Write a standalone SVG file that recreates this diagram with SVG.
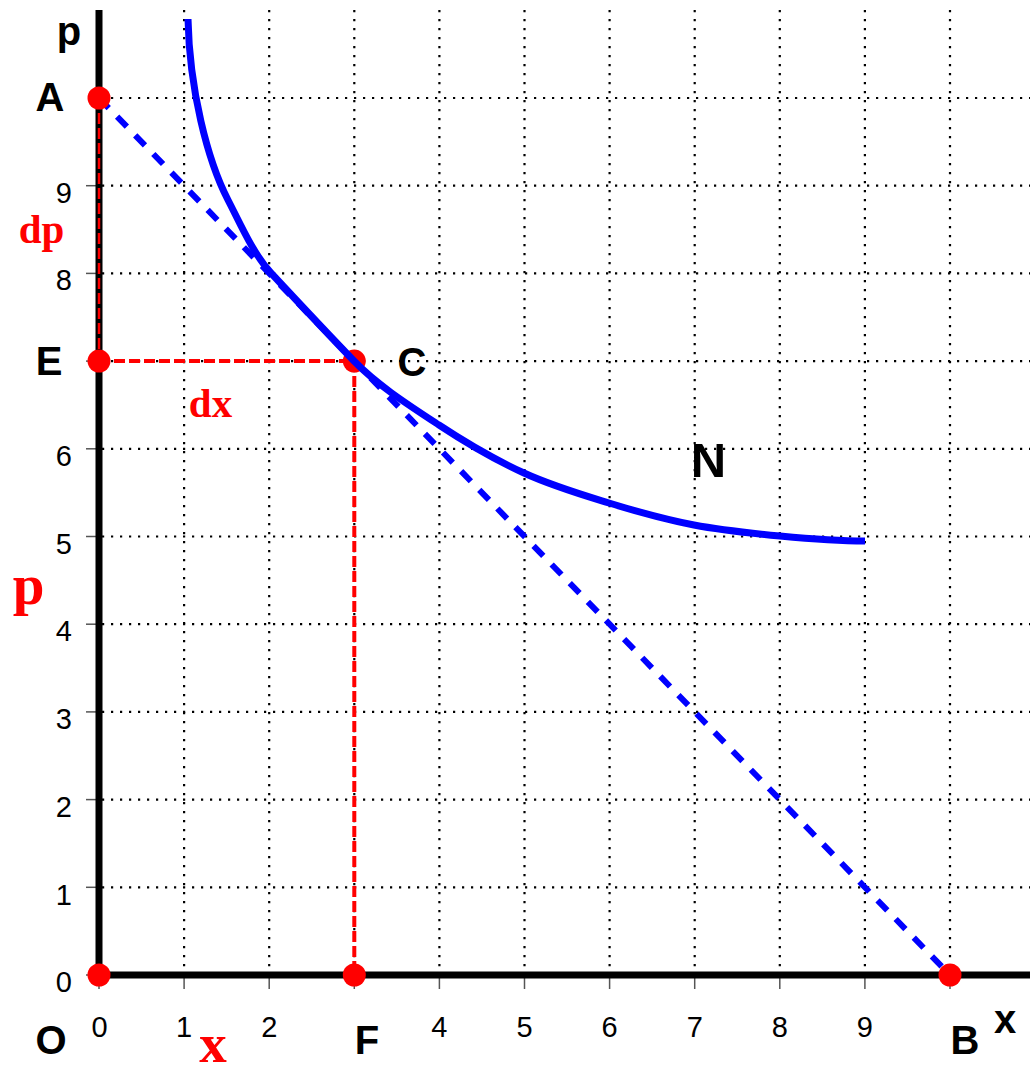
<svg xmlns="http://www.w3.org/2000/svg" width="1030" height="1068" viewBox="0 0 1030 1068">
<style>
.grid line{stroke:#000;stroke-width:2.2;stroke-dasharray:2.2 6.8;fill:none}
.tick line{stroke:#555;stroke-width:1.5}
.axis{stroke:#000;stroke-width:7;fill:none}
.num{font-family:"Liberation Sans",Arial,sans-serif;font-size:29px;fill:#000}
.numy{text-anchor:end}
.numx{text-anchor:middle}
.lbl{font-family:"Liberation Sans",Arial,sans-serif;font-weight:bold;font-size:40px;fill:#000;text-anchor:middle}
.rlbl{font-family:"Liberation Serif","Times New Roman",serif;font-weight:bold;fill:#ff0000;text-anchor:middle}
.dot{fill:#ff0000}
.rdash{stroke:#ff0000;stroke-width:4;stroke-dasharray:11 4;fill:none}
.bdash{stroke:#0000ff;stroke-width:6;stroke-dasharray:14 12;fill:none}
.curve{stroke:#0000ff;stroke-width:7;fill:none}
</style>
<rect x="0" y="0" width="1030" height="1068" fill="#fff"/>
<g id="grid" class="grid">
<line x1="184.1" y1="10" x2="184.1" y2="975"/>
<line x1="269.2" y1="10" x2="269.2" y2="975"/>
<line x1="354.3" y1="10" x2="354.3" y2="975"/>
<line x1="439.4" y1="10" x2="439.4" y2="975"/>
<line x1="524.5" y1="10" x2="524.5" y2="975"/>
<line x1="609.6" y1="10" x2="609.6" y2="975"/>
<line x1="694.7" y1="10" x2="694.7" y2="975"/>
<line x1="779.8" y1="10" x2="779.8" y2="975"/>
<line x1="864.9" y1="10" x2="864.9" y2="975"/>
<line x1="950" y1="10" x2="950" y2="975"/>
<line x1="102" y1="887.3" x2="1030" y2="887.3"/>
<line x1="102" y1="799.6" x2="1030" y2="799.6"/>
<line x1="102" y1="711.9" x2="1030" y2="711.9"/>
<line x1="102" y1="624.2" x2="1030" y2="624.2"/>
<line x1="102" y1="536.5" x2="1030" y2="536.5"/>
<line x1="102" y1="448.8" x2="1030" y2="448.8"/>
<line x1="102" y1="361.1" x2="1030" y2="361.1"/>
<line x1="102" y1="273.4" x2="1030" y2="273.4"/>
<line x1="102" y1="185.7" x2="1030" y2="185.7"/>
<line x1="102" y1="98" x2="1030" y2="98"/>
</g>
<g id="ticks" class="tick">
<line x1="86" y1="975" x2="99" y2="975"/>
<line x1="86" y1="887.3" x2="99" y2="887.3"/>
<line x1="86" y1="799.6" x2="99" y2="799.6"/>
<line x1="86" y1="711.9" x2="99" y2="711.9"/>
<line x1="86" y1="624.2" x2="99" y2="624.2"/>
<line x1="86" y1="536.5" x2="99" y2="536.5"/>
<line x1="86" y1="448.8" x2="99" y2="448.8"/>
<line x1="86" y1="361.1" x2="99" y2="361.1"/>
<line x1="86" y1="273.4" x2="99" y2="273.4"/>
<line x1="86" y1="185.7" x2="99" y2="185.7"/>
<line x1="99" y1="975" x2="99" y2="989"/>
<line x1="184.1" y1="975" x2="184.1" y2="989"/>
<line x1="269.2" y1="975" x2="269.2" y2="989"/>
<line x1="354.3" y1="975" x2="354.3" y2="989"/>
<line x1="439.4" y1="975" x2="439.4" y2="989"/>
<line x1="524.5" y1="975" x2="524.5" y2="989"/>
<line x1="609.6" y1="975" x2="609.6" y2="989"/>
<line x1="694.7" y1="975" x2="694.7" y2="989"/>
<line x1="779.8" y1="975" x2="779.8" y2="989"/>
<line x1="864.9" y1="975" x2="864.9" y2="989"/>
<line x1="950" y1="975" x2="950" y2="989"/>
</g>
<g id="axes">
<line class="axis" x1="99" y1="10" x2="99" y2="978"/>
<line class="axis" x1="96" y1="975" x2="1030" y2="975"/>
</g>
<g id="tick-labels" class="num">
<text class="numy" x="72" y="203">9</text>
<text class="numy" x="72" y="290">8</text>
<text class="numy" x="72" y="466">6</text>
<text class="numy" x="72" y="554">5</text>
<text class="numy" x="72" y="641">4</text>
<text class="numy" x="72" y="729">3</text>
<text class="numy" x="72" y="817">2</text>
<text class="numy" x="72" y="905">1</text>
<text class="numy" x="72" y="992">0</text>
<text class="numx" x="99.5" y="1037">0</text>
<text class="numx" x="184.1" y="1037">1</text>
<text class="numx" x="269.2" y="1037">2</text>
<text class="numx" x="439.4" y="1037">4</text>
<text class="numx" x="524.5" y="1037">5</text>
<text class="numx" x="609.6" y="1037">6</text>
<text class="numx" x="694.7" y="1037">7</text>
<text class="numx" x="779.8" y="1037">8</text>
<text class="numx" x="864.9" y="1037">9</text>
</g>
<g id="connectors">
<line class="rdash" x1="99" y1="98" x2="99" y2="361" style="stroke-width:2.5"/>
<line class="rdash" x1="99" y1="361.1" x2="354.3" y2="361.1"/>
<line class="rdash" x1="354.3" y1="361.1" x2="354.3" y2="975"/>
<line class="bdash" x1="99" y1="98" x2="950" y2="975"/>
</g>
<g id="node-A"><circle class="dot" cx="99" cy="98" r="11.5"/><text class="lbl" x="50" y="111">A</text></g>
<g id="node-E"><circle class="dot" cx="99" cy="361.1" r="11.5"/><text class="lbl" x="49" y="375">E</text></g>
<g id="node-O"><circle class="dot" cx="99" cy="975" r="11.5"/><text class="lbl" x="51" y="1054">O</text></g>
<g id="node-F"><circle class="dot" cx="354.3" cy="975" r="11.5"/><text class="lbl" x="367" y="1054">F</text></g>
<g id="node-B"><circle class="dot" cx="950" cy="975" r="11.5"/><text class="lbl" x="965" y="1054">B</text></g>
<g id="node-C"><circle class="dot" cx="354.3" cy="361.1" r="11.5"/><text class="lbl" x="412" y="376">C</text></g>
<g id="curve-N">
<path class="curve" d="M188,19 C189.5,89 207.3,160 228,200 C240.4,224 253.3,254 271,273 C298,302 326.5,332.5 354,361 C378.4,386.1 410.7,406.3 439,425 C467.3,443.7 495.7,460 524,473 C552.3,486 580.7,494.3 609,503 C637.3,511.7 665.5,519.5 694,525 C722.5,530.5 751.5,533.3 780,536 C808.5,538.7 836.7,541 865,541"/>
<text class="lbl" x="708.5" y="477" style="font-size:49px">N</text>
</g>
<g id="axis-labels">
<text class="lbl" x="69" y="45">p</text>
<text class="lbl" x="1005" y="1033">x</text>
<text class="rlbl" x="41.5" y="243" style="font-size:41px">dp</text>
<text class="rlbl" x="210.5" y="417" style="font-size:41px">dx</text>
<text class="rlbl" x="28.5" y="604" style="font-size:57px">p</text>
<text class="rlbl" x="213" y="1062" style="font-size:55px">x</text>
</g>
</svg>
